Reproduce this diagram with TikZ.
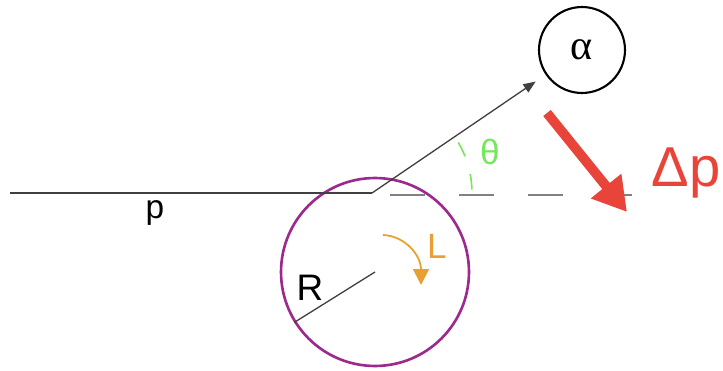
\documentclass[tikz,border=0pt]{standalone}
\usepackage{fontspec}
\setmainfont{Liberation Sans}
\newfontfamily\greekserif{Liberation Serif}
\usepackage{xcolor}
\usetikzlibrary{arrows.meta, calc}

\definecolor{ringpurple}{HTML}{9C2A8E}
\definecolor{spinorange}{HTML}{E9A030}
\definecolor{anglegreen}{HTML}{74E85A}
\definecolor{kickred}{HTML}{E8443A}

\begin{document}
\begin{tikzpicture}[x=0.02cm, y=-0.02cm,
    symbol/.style={anchor=base, inner sep=0pt},
    track/.style={black!75, line width=0.75pt}]

    \useasboundingbox (0,0) rectangle (723,371);

    % Define the detector and the target
    \node[draw, circle, line width=1.2pt, minimum size=1.72cm, inner sep=0pt,
          font=\greekserif\fontsize{24}{26}\selectfont] (alpha) at (582,50) {α};
    \node[draw=ringpurple, circle, line width=1.5pt, minimum size=3.76cm] (target) at (375,272) {};

    % Incoming particle and its scattered track
    \coordinate (start) at (10,193);
    \coordinate (hit) at (372,193);
    \draw[track] (start) -- (hit);
    \draw[track, -{Triangle[length=7pt, width=5.5pt]}, shorten >=0.24cm] (hit) -- (alpha);
    \node[symbol, font=\fontsize{19}{21}\selectfont] (plabel) at (155,218) {p};

    % Dashed reference line and the angle theta
    \coordinate (ref start) at (390,195);
    \coordinate (ref end) at (637,195);
    \draw[gray, line width=0.9pt, dash pattern=on 0.7cm off 0.68cm] (ref start) -- (ref end);
    \draw[anglegreen, line width=0.9pt, dash pattern=on 0.31cm off 0.37cm]
        ($(hit)+(2:2cm)$) arc[start angle=2, end angle=30.5, radius=2cm];
    \node[symbol, anglegreen, font=\fontsize{20}{22}\selectfont] (theta) at (490,165) {θ};

    % Momentum transfer
    \coordinate (kick tail) at (547,113);
    \coordinate (kick tip) at (627,212);
    \draw[kickred, line width=5.5pt, -{Triangle[length=19pt, width=21pt]}] (kick tail) -- (kick tip);
    \node[symbol, kickred, font=\fontsize{32}{34}\selectfont] (dp) at (686,187) {Δp};

    % Radius of the target
    \draw[track] (target.center) -- (target.212);
    \node[symbol, font=\fontsize{21}{23}\selectfont] (rlabel) at (310,300) {R};

    % Angular momentum
    \coordinate (spin start) at (383,235);
    \coordinate (spin end) at (421,285);
    \draw[spinorange, line width=1pt, -{Triangle[length=9pt, width=9pt]}]
        (spin start) .. controls (405,236) and (421,255) .. (spin end);
    \node[symbol, spinorange, font=\fontsize{20}{22}\selectfont] (llabel) at (437,258) {L};

\end{tikzpicture}
\end{document}
